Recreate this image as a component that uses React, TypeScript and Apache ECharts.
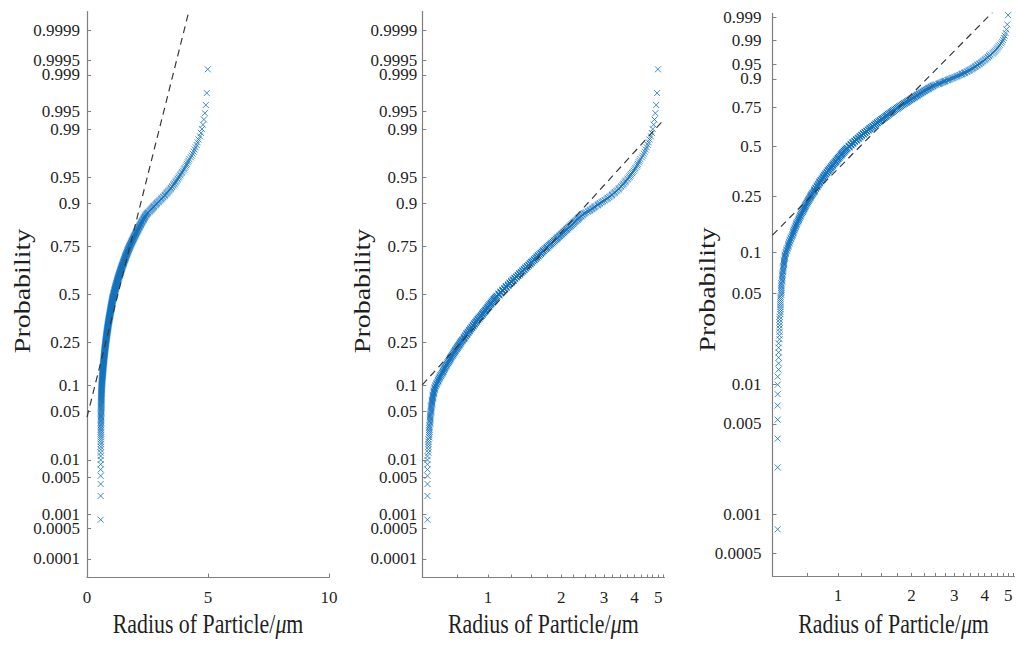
import { useEffect, useRef } from "react";
import * as echarts from "echarts";

// Measured particle radii (µm), grouped in size classes.
// Fine classes: centres 0.565 … 0.795 µm, 0.005 µm wide
const fineClassStart = 0.565;
const fineClassWidth = 0.005;
const fineCounts = [
  8, 6, 8, 9, 8, 7, 6, 6, 5,
  3, 3, 2, 4, 3, 3, 3, 2, 3, 4,
  3, 3, 3, 4, 2, 3, 3, 3, 4, 3,
  2, 3, 3, 3, 3, 4, 2, 3, 3, 3,
  3, 2, 4, 3,
  2, 3, 2, 2,
];
// Medium classes: centres 0.80 … 1.09 µm, 0.01 µm wide
const midClassStart = 0.8;
const midClassWidth = 0.01;
const midCounts = [
  6, 5, 6, 5, 6, 5, 5, 6, 5, 5,
  5, 5, 5, 4, 5, 5, 5, 4, 5, 5,
  5, 5, 4, 5, 5, 4, 5, 4, 4, 4,
];
// Coarse classes: centres 1.11 … 4.99 µm, 0.02 µm wide
const coarseClassStart = 1.11;
const coarseClassWidth = 0.02;
const coarseCounts = [
  8, 7, 7, 6, 7, 6, 6, 6, 6, 6, 5, 5, 6, 5, 5, 5, 5, 5, 4, 5, 5, 4, 4, 4, 5, 4, 3, 4, 4, 4, 3, 3, 4, 3,
  3, 3, 3, 3, 3, 2, 3, 3, 2, 3, 2, 3, 2, 3, 2, 2, 3, 2, 2, 2, 2, 2, 2, 2, 2, 2, 1, 2, 2, 2, 1, 2, 1, 2, 1,
  1, 1, 1, 0, 1, 1, 1, 1, 1, 1, 1, 1, 1, 1, 1, 0, 1, 1, 1, 1, 1,
  0, 1, 1, 1, 0, 1, 1, 0, 1, 1, 1, 0, 1, 1, 0, 1, 1, 1, 0, 1,
  1, 1, 0, 1, 1, 0, 1, 1, 1, 0, 1, 1, 0, 1, 1, 1, 0, 1, 1, 1, 0, 1, 1, 0, 1,
  1, 0, 1, 1, 0, 1, 1, 0, 1, 0, 1, 1, 0, 1, 0, 1, 1, 0, 1, 1,
  0, 1, 0, 0, 1, 0, 1, 0, 1, 0, 1, 0, 1, 0, 1, 0, 1, 0, 1, 0,
  1, 0, 0, 1, 0, 1, 0, 1, 0, 1, 0, 1, 0, 1, 0, 1, 0, 1, 0, 1,
];

// Axis tick values
const normalProbTicks = [0.0001, 0.0005, 0.001, 0.005, 0.01, 0.05, 0.1, 0.25, 0.5, 0.75, 0.9, 0.95, 0.99, 0.995, 0.999, 0.9995, 0.9999];
const weibullProbTicks = [0.0005, 0.001, 0.005, 0.01, 0.05, 0.1, 0.25, 0.5, 0.75, 0.9, 0.95, 0.99, 0.999];
const linearRadiusTicks = [0, 5, 10];
const logRadiusLabels = [1, 2, 3, 4, 5];
const logRadiusTicks = [0.75, 1, 1.25, 1.5, 1.75, 2, 2.25, 2.5, 2.75, 3, 3.25, 3.5, 3.75, 4, 4.25, 4.5, 4.75, 5, 5.25];

// Axis ranges
const linearRadiusRange = [0, 10];
const logRadiusRange = [0.538, 5.3];
const normalZRange = [-3.98, 3.98];
const weibullWRange = [-8, 2];

const FONT = "'Liberation Serif', 'Times New Roman', 'DejaVu Serif', serif";
const TEXT = "#1f1f1f";
const AXIS = "#7f7f7f";
const MARK = "#1372bd";

// Inverse standard normal CDF (Acklam)
function probit(p: number): number {
  const a = [-39.69683028665376, 220.9460984245205, -275.9285104469687, 138.357751867269, -30.66479806614716, 2.506628277459239];
  const b = [-54.47609879822406, 161.5858368580409, -155.6989798598866, 66.80131188771972, -13.28068155288572];
  const c = [-0.007784894002430293, -0.3223964580411365, -2.400758277161838, -2.549732539343734, 4.374664141464968, 2.938163982698783];
  const d = [0.007784695709041462, 0.3224671290700398, 2.445134137142996, 3.754408661907416];
  const pl = 0.02425;
  if (p < pl) {
    const q = Math.sqrt(-2 * Math.log(p));
    return (((((c[0] * q + c[1]) * q + c[2]) * q + c[3]) * q + c[4]) * q + c[5]) / ((((d[0] * q + d[1]) * q + d[2]) * q + d[3]) * q + 1);
  }
  if (p <= 1 - pl) {
    const q = p - 0.5;
    const r = q * q;
    return ((((((a[0] * r + a[1]) * r + a[2]) * r + a[3]) * r + a[4]) * r + a[5]) * q) / (((((b[0] * r + b[1]) * r + b[2]) * r + b[3]) * r + b[4]) * r + 1);
  }
  const q = Math.sqrt(-2 * Math.log(1 - p));
  return -(((((c[0] * q + c[1]) * q + c[2]) * q + c[3]) * q + c[4]) * q + c[5]) / ((((d[0] * q + d[1]) * q + d[2]) * q + d[3]) * q + 1);
}
const weibullY = (p: number) => Math.log(-Math.log(1 - p));

// Expand the class counts into the sorted sample
const radii: number[] = [];
function addClasses(start: number, width: number, counts: number[]) {
  counts.forEach((cnt, k) => {
    const r = Number((start + k * width).toFixed(3));
    for (let j = 0; j < cnt; j++) radii.push(r);
  });
}
addClasses(fineClassStart, fineClassWidth, fineCounts);
addClasses(midClassStart, midClassWidth, midCounts);
addClasses(coarseClassStart, coarseClassWidth, coarseCounts);

const n = radii.length;
const plotPos = radii.map((_, i) => (i + 0.5) / n);

function quantile(p: number): number {
  const pos = p * n + 0.5;
  const lo = Math.min(Math.max(Math.floor(pos), 1), n);
  const hi = Math.min(lo + 1, n);
  const f = pos - Math.floor(pos);
  return radii[lo - 1] + f * (radii[hi - 1] - radii[lo - 1]);
}
const q1 = quantile(0.25);
const q3 = quantile(0.75);

// Reference lines through the first and third quartiles
const zSpan = probit(0.75) - probit(0.25);
const normMu = (q1 + q3) / 2;
const normSigma = (q3 - q1) / zSpan;
const logMu = (Math.log(q1) + Math.log(q3)) / 2;
const logSigma = (Math.log(q3) - Math.log(q1)) / zSpan;
const wbShape = (weibullY(0.75) - weibullY(0.25)) / (Math.log(q3) - Math.log(q1));
const wbLogScale = Math.log(q1) - weibullY(0.25) / wbShape;

const labelLookup = (ticks: number[], tf: (p: number) => number) => (v: number) => {
  let best = "";
  let bd = Infinity;
  for (const t of ticks) {
    const dd = Math.abs(tf(t) - v);
    if (dd < bd) {
      bd = dd;
      best = String(t);
    }
  }
  return best;
};

const crossSymbol = "path://M0,0L10,10M10,0L0,10";
const labelStyle = { fontFamily: FONT, fontSize: 17, color: TEXT };

function yAxisFor(grid: number, ticks: number[], tf: (p: number) => number, range: number[], margin: number) {
  const vals = ticks.map(tf);
  return {
    type: "value",
    gridIndex: grid,
    min: range[0],
    max: range[1],
    axisLine: { show: true, onZero: false, lineStyle: { color: AXIS, width: 1.2 } },
    axisTick: { show: true, inside: true, length: 4, customValues: vals, lineStyle: { color: AXIS } },
    axisLabel: { ...labelStyle, margin, customValues: vals, formatter: labelLookup(ticks, tf) },
    splitLine: { show: false },
  };
}

function logXAxis(grid: number) {
  return {
    type: "value",
    gridIndex: grid,
    min: Math.log10(logRadiusRange[0]),
    max: Math.log10(logRadiusRange[1]),
    axisLine: { show: true, onZero: false, lineStyle: { color: AXIS, width: 1.2 } },
    axisTick: { show: true, inside: true, length: 3, customValues: logRadiusTicks.map(Math.log10), lineStyle: { color: AXIS } },
    axisLabel: {
      ...labelStyle,
      margin: 11,
      customValues: logRadiusLabels.map(Math.log10),
      formatter: (v: number) => String(Math.round(Math.pow(10, v))),
    },
    splitLine: { show: false },
  };
}

function scatterSeries(idx: number, pts: number[][]) {
  return {
    type: "scatter",
    xAxisIndex: idx,
    yAxisIndex: idx,
    data: pts,
    symbol: crossSymbol,
    symbolSize: 6,
    silent: true,
    itemStyle: { color: "transparent", borderColor: MARK, borderWidth: 1 },
    z: 2,
  };
}

function refLine(idx: number, pts: number[][]) {
  return {
    type: "line",
    xAxisIndex: idx,
    yAxisIndex: idx,
    data: pts,
    symbol: "none",
    silent: true,
    clip: true,
    lineStyle: { color: "#383838", width: 1.2, type: [7, 5] },
    z: 3,
  };
}

function xTitle(cx: number) {
  return {
    type: "text",
    x: cx,
    y: 624,
    scaleX: 0.81,
    silent: true,
    style: {
      text: "{n|Radius of Particle/}{u|μ}{n|m}",
      align: "center",
      verticalAlign: "middle",
      rich: {
        n: { fontFamily: FONT, fontSize: 27, fill: TEXT, color: TEXT },
        u: { fontFamily: FONT, fontSize: 27, fontStyle: "italic", fill: TEXT, color: TEXT },
      },
    },
  };
}

function yTitle(cx: number, cy: number) {
  return {
    type: "text",
    x: cx,
    y: cy,
    rotation: Math.PI / 2,
    scaleY: 0.8,
    silent: true,
    style: { text: "Probability", align: "center", verticalAlign: "middle", fontFamily: FONT, fontSize: 28, fill: TEXT },
  };
}

export default function App() {
  const ref = useRef<HTMLDivElement>(null);

  useEffect(() => {
    if (!ref.current) return;
    const chart = echarts.init(ref.current, undefined, { renderer: "svg" });

    const normalPts = radii.map((r, i) => [r, probit(plotPos[i])]);
    const lognormalPts = radii.map((r, i) => [Math.log10(r), probit(plotPos[i])]);
    const weibullPts = radii.map((r, i) => [Math.log10(r), weibullY(plotPos[i])]);

    const lx0 = Math.log10(logRadiusRange[0]);
    const lx1 = Math.log10(logRadiusRange[1]);
    const normalLine = linearRadiusRange.map((x) => [x, (x - normMu) / normSigma]);
    const lognormalLine = [lx0, lx1].map((lx) => [lx, (lx * Math.LN10 - logMu) / logSigma]);
    const weibullLine = [lx0, lx1].map((lx) => [lx, wbShape * (lx * Math.LN10 - wbLogScale)]);

    chart.setOption({
      animation: false,
      backgroundColor: "#ffffff",
      grid: [
        { left: 87, top: 11.5, width: 242, height: 566 },
        { left: 422.3, top: 11.5, width: 242, height: 566 },
        { left: 772.5, top: 13.4, width: 242, height: 562.6 },
      ],
      xAxis: [
        {
          type: "value",
          gridIndex: 0,
          min: linearRadiusRange[0],
          max: linearRadiusRange[1],
          axisLine: { show: true, onZero: false, lineStyle: { color: AXIS, width: 1.2 } },
          axisTick: { show: true, inside: true, length: 4, customValues: linearRadiusTicks, lineStyle: { color: AXIS } },
          axisLabel: { ...labelStyle, margin: 11, customValues: linearRadiusTicks },
          splitLine: { show: false },
        },
        logXAxis(1),
        logXAxis(2),
      ],
      yAxis: [
        yAxisFor(0, normalProbTicks, probit, normalZRange, 7),
        yAxisFor(1, normalProbTicks, probit, normalZRange, 5),
        yAxisFor(2, weibullProbTicks, weibullY, weibullWRange, 11),
      ],
      series: [
        scatterSeries(0, normalPts),
        refLine(0, normalLine),
        scatterSeries(1, lognormalPts),
        refLine(1, lognormalLine),
        scatterSeries(2, weibullPts),
        refLine(2, weibullLine),
      ],
      graphic: [
        xTitle(208),
        xTitle(543.3),
        xTitle(893.5),
        yTitle(21.7, 291),
        yTitle(362, 291),
        yTitle(707.5, 289.5),
      ],
    });

    return () => chart.dispose();
  }, []);

  return <div ref={ref} style={{ position: "absolute", left: 0, top: 0, width: 1016, height: 646 }} />;
}
